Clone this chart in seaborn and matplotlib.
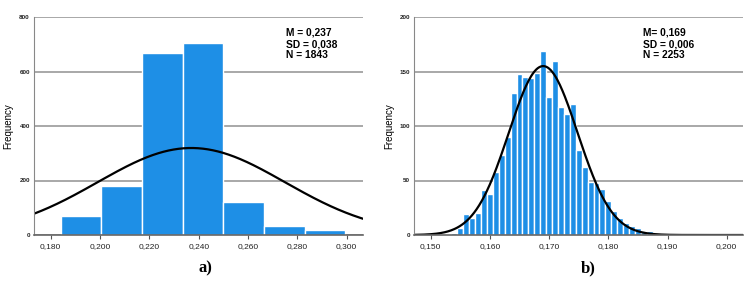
#!/usr/bin/env python3
"""Two SPSS-style histograms with fitted normal curves, panels a) and b)."""

import numpy as np
import pandas as pd
import matplotlib
matplotlib.use("Agg")
import matplotlib.pyplot as plt
import seaborn as sns
from matplotlib.ticker import FuncFormatter, MultipleLocator

# Panel a) - bin edges and counts
edges_a = [0.184, 0.2005, 0.217, 0.2335, 0.250, 0.2665, 0.283, 0.2995]
counts_a = [71, 180, 667, 706, 122, 34, 20]
stats_a = {"M": 0.237, "SD": 0.038, "N": 1843}

# Panel b) - bins of 0.001 centred on each value
centers_b = [0.152, 0.153, 0.154, 0.155, 0.156, 0.157, 0.158, 0.159, 0.160,
             0.161, 0.162, 0.163, 0.164, 0.165, 0.166, 0.167, 0.168, 0.169,
             0.170, 0.171, 0.172, 0.173, 0.174, 0.175, 0.176, 0.177, 0.178,
             0.179, 0.180, 0.181, 0.182, 0.183, 0.184, 0.185, 0.186, 0.187]
counts_b = [1, 1, 2, 6, 19, 16, 20, 41, 38,
            58, 73, 90, 130, 148, 145, 144, 149, 169,
            127, 160, 117, 111, 120, 78, 62, 49, 48,
            42, 31, 22, 16, 11, 8, 6, 3, 4]
stats_b = {"M": 0.169, "SD": 0.006, "N": 2253}
sd_curve_b = 0.0058  # unrounded SD used for the drawn curve

BAR = "#1e8fe6"
plt.rcParams["font.family"] = ["Liberation Sans", "DejaVu Sans"]


def comma(fmt):
    return FuncFormatter(lambda v, _: format(v, fmt).replace(".", ","))


def panel(ax, centers, counts, edges, mean, sd, n, xlim, ymax, ystep, xstep,
          text_lines, text_x, label, label_x):
    df = pd.DataFrame({"x": centers, "count": counts})
    sns.histplot(data=df, x="x", weights="count", bins=edges, ax=ax, color=BAR,
                 edgecolor="white", linewidth=1.0, alpha=1.0)
    bw = edges[1] - edges[0]
    xs = np.linspace(xlim[0], xlim[1], 400)
    ys = n * bw * np.exp(-0.5 * ((xs - mean) / sd) ** 2) / (sd * np.sqrt(2 * np.pi))
    sns.lineplot(x=xs, y=ys, color="black", linewidth=1.6, ax=ax)

    ax.set_xlim(*xlim)
    ax.set_ylim(0, ymax)
    ax.yaxis.set_major_locator(MultipleLocator(ystep))
    ax.xaxis.set_major_locator(MultipleLocator(xstep))
    ax.xaxis.set_major_formatter(comma(".3f"))
    ax.yaxis.grid(True, color="#999999", linewidth=1.2)
    ax.set_axisbelow(True)
    for side in ("top", "right"):
        ax.spines[side].set_visible(False)
    ax.spines["left"].set_color("#888888")
    ax.spines["bottom"].set_color("#666666")
    ax.spines["bottom"].set_linewidth(1.2)
    ax.tick_params(axis="y", length=0, pad=3, labelsize=4.5, labelcolor="#222222")
    ax.tick_params(axis="x", length=3, width=0.8, color="#555555", pad=3,
                   labelsize=6, labelcolor="#222222")
    for t in ax.get_yticklabels():
        t.set_fontweight("bold")
    ax.set_xlabel("")
    ax.set_ylabel("Frequency", fontsize=7, labelpad=4)
    ax.text(text_x, 0.95, text_lines, transform=ax.transAxes, fontsize=7.4,
            fontweight="bold", va="top", ha="left", linespacing=1.15)
    ax.text(label_x, -0.155, label, transform=ax.transAxes, fontsize=12,
            fontweight="bold", family="Liberation Serif", ha="center", va="center")


fig = plt.figure(figsize=(7.46, 2.82), dpi=100)
ax_a = fig.add_axes([34 / 746, 1 - 235 / 282, 329 / 746, 218 / 282])
ax_b = fig.add_axes([414 / 746, 1 - 235 / 282, 329 / 746, 218 / 282])

panel(ax_a, [(edges_a[i] + edges_a[i + 1]) / 2 for i in range(len(counts_a))], counts_a, edges_a,
      stats_a["M"], stats_a["SD"], stats_a["N"], (0.17323, 0.30661), 800, 200, 0.02,
      "M = 0,237\nSD = 0,038\nN = 1843", 0.765, "a)", 0.52)

edges_b = [c - 0.0005 for c in centers_b] + [centers_b[-1] + 0.0005]
panel(ax_b, centers_b, counts_b, edges_b,
      stats_b["M"], sd_curve_b, stats_b["N"], (0.14718, 0.20275), 200, 50, 0.01,
      "M= 0,169\nSD = 0,006\nN = 2253", 0.695, "b)", 0.53)

fig.savefig("out.png", dpi=100, facecolor="white")
plt.close(fig)
